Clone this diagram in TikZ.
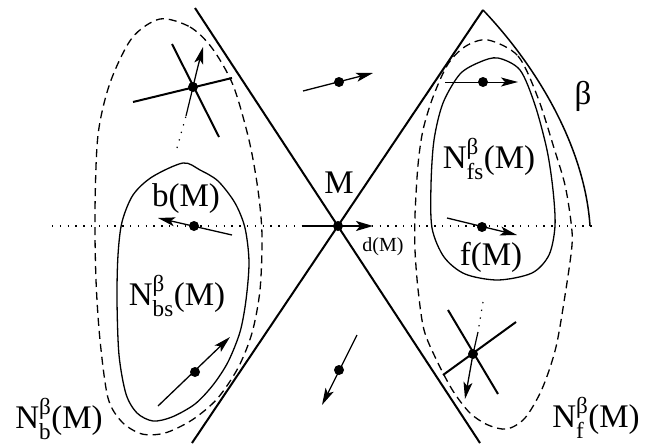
\documentclass[tikz,border=0pt]{standalone}
\usepackage{amsmath}
\usepackage{fontspec}
\setmainfont{Liberation Serif}
\usetikzlibrary{arrows.meta}
\tikzset{
 mainline/.style={line width=2pt},
 region/.style={line width=1.3pt},
 dregion/.style={line width=1.3pt, dash pattern=on 8pt off 5pt},
 dotline/.style={line width=1.3pt, dash pattern=on 1.3pt off 6.5pt},
 flow/.style={line width=1.3pt, -{Stealth[length=17pt,width=9pt,inset=4pt]}},
 bigflow/.style={line width=2pt, -{Stealth[length=17pt,width=10pt,inset=4pt]}},
 sepline/.style={line width=2pt},
 pt/.style={circle, fill, inner sep=0pt, minimum size=10pt},
 lab/.style={font=\fontsize{33}{36}\selectfont, anchor=base, inner sep=0pt},
 smalllab/.style={font=\fontsize{20}{22}\selectfont, anchor=base, inner sep=0pt},
}
\begin{document}
\begin{tikzpicture}[x=1pt,y=-1pt]
\useasboundingbox (0,0) rectangle (655,444);
% key points
\coordinate (M) at (338,226);
\coordinate (l1a) at (195,8);
\coordinate (l1b) at (480,443);
\coordinate (apex) at (483,10);
\coordinate (l2b) at (192,443);
\coordinate (bend) at (590,226);
\coordinate (dl) at (52,226);
\coordinate (dr) at (597,226);
% dotted axis
\draw[dotline] (dl) -- (dr);
% separatrix lines and beta curve
\draw[mainline] (l1a) -- (l1b);
\draw[mainline] (l2b) -- (apex);
\draw[region, line width=1.5pt] (apex) .. controls (540,70) and (585,150) .. (bend);
% regions
\draw[dregion] plot[smooth cycle] coordinates {(160,19) (190,27) (212,48) (233,85) (249,140) (258,190) (262,235) (260,290) (252,333) (238,368) (217,399) (192,420) (165,433) (142,434) (122,422) (108,398) (100,340) (96,280) (95,210) (98,135) (110,83) (132,38)};
\draw[region] plot[smooth cycle] coordinates {(183,163) (200,170) (218,181) (235,203) (245,228) (249,262) (246,300) (240,332) (228,362) (213,385) (195,404) (172,417) (153,421) (137,413) (126,394) (119,355) (117,300) (118,255) (122,222) (133,195) (152,177)};
\draw[dregion] plot[smooth cycle] coordinates {(488,40) (518,56) (538,98) (554,148) (565,185) (571,222) (572,245) (566,289) (556,347) (542,389) (525,418) (507,429) (488,425) (470,413) (453,391) (437,361) (424,330) (418,289) (415,250) (415,215) (418,165) (423,130) (433,97) (448,64) (466,46)};
\draw[region] plot[smooth cycle] coordinates {(498,58) (520,70) (535,105) (547,150) (553,190) (555,226) (549,255) (532,273) (498,280) (465,274) (444,257) (432,228) (431,185) (434,140) (443,103) (460,74) (480,62)};
% center arrow
\coordinate (c0) at (303,226);
\coordinate (c1) at (373,226);
\draw[bigflow] (c0) -- (c1);
\node[pt] (pM) at (M) {};
% upper middle flow
\coordinate (u0) at (303,91); \coordinate (u1) at (373,73);
\draw[flow] (u0) -- (u1);
\node[pt] (pu) at (339,82) {};
% top flow in N_fs
\coordinate (t0) at (445,82); \coordinate (t1) at (518,82);
\draw[flow, line width=1pt] (t0) -- (t1);
\node[pt] (pt1) at (483,82) {};
% b(M) flow
\coordinate (b0) at (232,235); \coordinate (b1) at (158,218);
\draw[flow] (b0) -- (b1);
\node[pt] (pb) at (194,226) {};
% f(M) flow
\coordinate (f0) at (447,218); \coordinate (f1) at (517,235);
\draw[flow] (f0) -- (f1);
\node[pt] (pf) at (482,227) {};
% bottom-left flow
\coordinate (g0) at (158,406); \coordinate (g1) at (230,337);
\draw[flow] (g0) -- (g1);
\node[pt] (pg) at (195,372) {};
% bottom-center flow
\coordinate (h0) at (357,335); \coordinate (h1) at (322,405);
\draw[flow] (h0) -- (h1);
\node[pt] (ph) at (339,370) {};
% top-left saddle
\coordinate (s1) at (193,87);
\coordinate (s1a) at (133,102); \coordinate (s1b) at (232,78);
\coordinate (s1c) at (172,44); \coordinate (s1d) at (219,137);
\coordinate (s1e) at (177,148); \coordinate (s1f) at (186,116); \coordinate (s1g) at (203,47);
\draw[sepline] (s1a) -- (s1b);
\draw[sepline] (s1c) -- (s1d);
\draw[dotline, line width=1.2pt] (s1e) -- (s1f);
\draw[line width=1.2pt] (s1f) -- (s1);
\draw[flow] (s1) .. controls (197,70) .. (s1g);
\node[pt] (ps1) at (s1) {};
% bottom-right saddle
\coordinate (s2) at (473,354);
\coordinate (s2a) at (448,310); \coordinate (s2b) at (498,394);
\coordinate (s2c) at (443,375); \coordinate (s2d) at (516,322);
\coordinate (s2e) at (483,302); \coordinate (s2f) at (478,332); \coordinate (s2g) at (465,399);
\draw[sepline] (s2a) -- (s2b);
\draw[sepline] (s2c) -- (s2d);
\draw[dotline, line width=1.2pt] (s2e) -- (s2f);
\draw[line width=1.2pt] (s2f) -- (s2);
\draw[flow] (s2) -- (s2g);
\node[pt] (ps2) at (s2) {};
% labels
\node[lab] (lM) at (339,193) {M};
\node[smalllab] (ld) at (383,251) {d(M)};
\node[lab] (lb) at (186,206) {b(M)};
\node[lab] (lf) at (491,265) {f(M)};
\node[lab] (lbeta) at (583,104) {β};
\node[lab] (lbs) at (177,305) {N$^{\text{β}}_{\text{bs}}$(M)};
\node[lab] (lfs) at (489,168) {N$^{\text{β}}_{\text{fs}}$(M)};
\node[lab] (lbb) at (59,428) {N$^{\text{β}}_{\text{b}}$(M)};
\node[lab] (lff) at (596,427) {N$^{\text{β}}_{\text{f}}$(M)};
\end{tikzpicture}
\end{document}
